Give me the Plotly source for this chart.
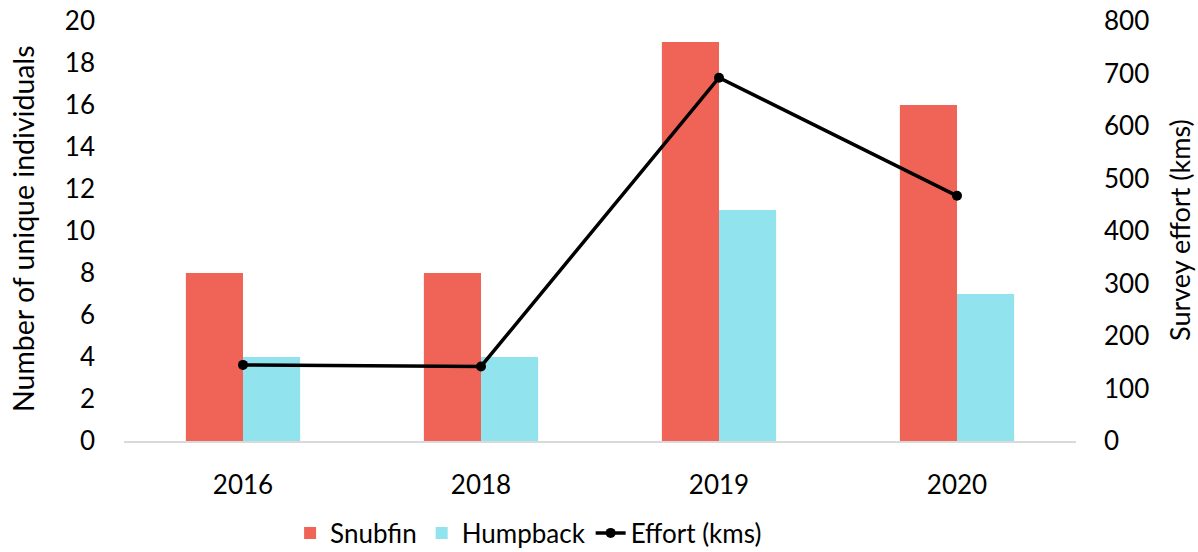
import plotly.graph_objects as go

years = ["2016", "2018", "2019", "2020"]
snubfin = [8, 8, 19, 16]
humpback = [4, 4, 11, 7]
effort = [145, 142, 692, 467]

FONT = "Lato"
FS = 26
fig = go.Figure()
fig.add_trace(go.Bar(x=years, y=snubfin, name="Snubfin", marker_color="#EF6456", marker_line_width=0))
fig.add_trace(go.Bar(x=years, y=humpback, name="Humpback", marker_color="#91E3EE", marker_line_width=0))
fig.add_trace(go.Scatter(x=years, y=effort, name="Effort (kms)", yaxis="y2", mode="lines+markers",
                         line=dict(color="black", width=3.5), marker=dict(size=10, color="black")))

fig.update_layout(
    width=1198, height=552,
    margin=dict(l=124, r=122, t=21, b=111, autoexpand=False),
    paper_bgcolor="white", plot_bgcolor="white",
    font=dict(family=FONT, size=FS, color="black"),
    barmode="group", bargap=0.52, bargroupgap=0,
    showlegend=True,
    legend=dict(orientation="h", x=0.425, xanchor="center", y=-0.219, yanchor="middle",
                font=dict(size=FS), itemwidth=30, traceorder="normal"),
    xaxis=dict(showgrid=False, showline=True, linecolor="#D9D9D9", linewidth=1.5,
               ticks="", ticklabelstandoff=20, automargin=False),
    yaxis=dict(range=[0, 20], dtick=2, showgrid=False, zeroline=False, showline=False,
               ticks="", ticklabelstandoff=28, automargin=False),
    yaxis2=dict(range=[0, 800], dtick=100, overlaying="y", side="right", showgrid=False,
                zeroline=False, showline=False, ticks="", ticklabelstandoff=27, automargin=False),
    annotations=[
        dict(text="Number of unique individuals", xref="paper", yref="paper", x=-0.106, y=0.505,
             xanchor="center", yanchor="middle", textangle=-90, showarrow=False, font=dict(size=28.5)),
        dict(text="Survey effort (kms)", xref="paper", yref="paper", x=1.108, y=0.502,
             xanchor="center", yanchor="middle", textangle=-90, showarrow=False, font=dict(size=27)),
    ],
)
fig.write_html("out.html")
